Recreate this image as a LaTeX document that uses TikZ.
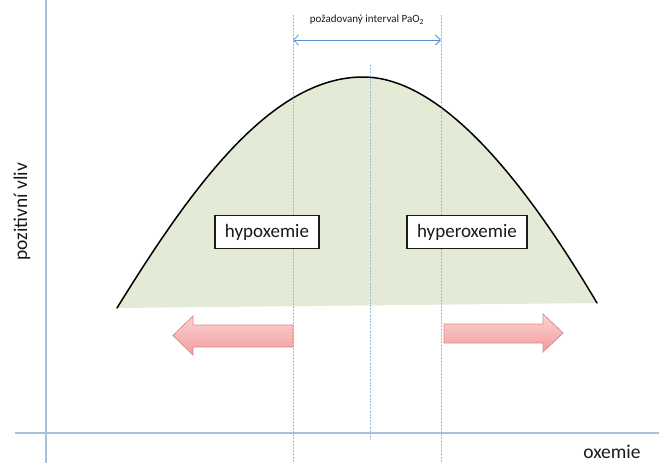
\documentclass[tikz,border=0pt]{standalone}
\usepackage{fontspec}
\setmainfont{Carlito}
\usetikzlibrary{arrows.meta}
\definecolor{axisblue}{HTML}{A9BFE0}
\definecolor{guideblue}{HTML}{9DB5DA}
\definecolor{spanblue}{HTML}{5B8FD0}
\definecolor{hillgreen}{HTML}{E3EAD5}
\definecolor{arrowtop}{HTML}{FBD3D3}
\definecolor{arrowbot}{HTML}{F29C9C}
\definecolor{arrowedge}{HTML}{DE8A8A}
\definecolor{ink}{HTML}{1A1A1A}
\begin{document}
\begin{tikzpicture}[x=1pt,y=-1pt,
  axis/.style={draw=axisblue,line width=1.6pt},
  guide/.style={draw=guideblue,line width=0.7pt,dash pattern=on 2pt off 1.2pt},
  zone/.style={draw=ink,line width=1.8pt,fill=white,inner xsep=10pt,minimum height=33pt,
    text=ink,font=\fontsize{19}{21}\selectfont},
  push/.style={draw=arrowedge,line width=0.8pt,top color=arrowtop,bottom color=arrowbot},
  lbl/.style={text=ink,font=\fontsize{19.5}{21}\selectfont}]
\useasboundingbox (0,0) rectangle (659,463);

% axes
\coordinate (ytop) at (46,0);
\coordinate (ybot) at (46,463);
\coordinate (xl) at (15,433);
\coordinate (xr) at (659,433);
\draw[axis] (ytop) -- (ybot);
\draw[axis] (xl) -- (xr);

% hill of the positive effect
\fill[hillgreen] (117,308) .. controls (190,190) and (270,77) .. (363,77)
  .. controls (445,77) and (530,190) .. (597,303) -- cycle;
\draw[black,line width=1.5pt,line cap=round] (117,308) .. controls (190,190) and (270,77) .. (363,77)
  .. controls (445,77) and (530,190) .. (597,303);

% guide lines of the target interval
\coordinate (lt) at (293,15);
\coordinate (lb) at (293,463);
\coordinate (rt) at (441,15);
\coordinate (rb) at (441,463);
\coordinate (ct) at (370,65);
\coordinate (cb) at (370,440);
\draw[guide] (lt) -- (lb);
\draw[guide] (rt) -- (rb);
\draw[guide] (ct) -- (cb);

% target interval
\coordinate (sl) at (293,40);
\coordinate (sr) at (441,40);
\draw[spanblue,line width=0.8pt,{Straight Barb[length=5pt,width=10pt]}-{Straight Barb[length=5pt,width=10pt]}] (sl) -- (sr);
\node[text=ink,font=\fontsize{11}{12}\selectfont] (span) at (367,20) {požadovaný interval PaO\textsubscript{2}};

% zone labels
\node[zone] (hypo) at (267,232) {hypoxemie};
\node[zone] (hyper) at (467,232) {hyperoxemie};

% direction arrows
\path[push] (293,325) -- (193,325) -- (193,316) -- (173,335.5) -- (193,355) -- (193,347) -- (293,347) -- cycle;
\path[push] (444,324) -- (543,324) -- (543,314) -- (563,333) -- (543,352) -- (543,343) -- (444,343) -- cycle;

% axis titles
\node[lbl,rotate=90] (ylab) at (22,212) {pozitivní vliv};
\node[lbl] (xlab) at (612,452) {oxemie};
\end{tikzpicture}
\end{document}
